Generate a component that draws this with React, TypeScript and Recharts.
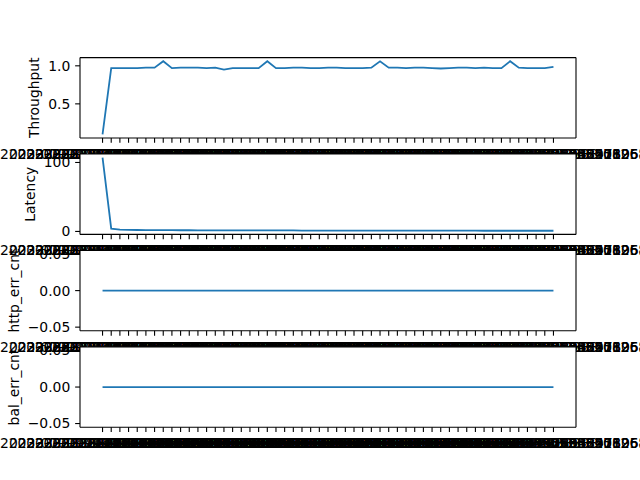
import { CartesianGrid, Label, Line, LineChart, XAxis, YAxis } from 'recharts';

// x tick labels (timestamps, one per sample)
const stamps = [
  '2023-07-18 14:00:03.512847', '2023-07-18 14:01:03.498120', '2023-07-18 14:02:03.507731',
  '2023-07-18 14:03:03.511204', '2023-07-18 14:04:03.502958', '2023-07-18 14:05:03.509316',
  '2023-07-18 14:06:03.514082', '2023-07-18 14:07:03.500673', '2023-07-18 14:08:03.506519',
  '2023-07-18 14:09:03.503847', '2023-07-18 14:10:03.510265', '2023-07-18 14:11:03.508193',
  '2023-07-18 14:12:03.501776', '2023-07-18 14:13:03.512340', '2023-07-18 14:14:03.505108',
  '2023-07-18 14:15:03.509927', '2023-07-18 14:16:03.503614', '2023-07-18 14:17:03.511853',
  '2023-07-18 14:18:03.507042', '2023-07-18 14:19:03.500398', '2023-07-18 14:20:03.513726',
  '2023-07-18 14:21:03.504281', '2023-07-18 14:22:03.508865', '2023-07-18 14:23:03.502517',
  '2023-07-18 14:24:03.510694', '2023-07-18 14:25:03.506130', '2023-07-18 14:26:03.512973',
  '2023-07-18 14:27:03.501459', '2023-07-18 14:28:03.509082', '2023-07-18 14:29:03.503361',
  '2023-07-18 14:30:03.511508', '2023-07-18 14:31:03.507894', '2023-07-18 14:32:03.500215',
  '2023-07-18 14:33:03.513047', '2023-07-18 14:34:03.505672', '2023-07-18 14:35:03.508339',
  '2023-07-18 14:36:03.502906', '2023-07-18 14:37:03.510121', '2023-07-18 14:38:03.506784',
  '2023-07-18 14:39:03.512455', '2023-07-18 14:40:03.501093', '2023-07-18 14:41:03.509760',
  '2023-07-18 14:42:03.503528', '2023-07-18 14:43:03.511186', '2023-07-18 14:44:03.507603',
  '2023-07-18 14:45:03.500942', '2023-07-18 14:46:03.513319', '2023-07-18 14:47:03.504857',
  '2023-07-18 14:48:03.508471', '2023-07-18 14:49:03.502139', '2023-07-18 14:50:03.510806',
  '2023-07-18 14:51:03.506253', '2023-07-18 14:52:03.512688',
];

const throughput = [
  0.10, 0.97, 0.97, 0.97, 0.97, 0.975, 0.975, 1.06, 0.97, 0.975,
  0.975, 0.975, 0.97, 0.975, 0.95, 0.97, 0.97, 0.97, 0.97, 1.06,
  0.97, 0.97, 0.975, 0.975, 0.97, 0.97, 0.975, 0.975, 0.97, 0.97,
  0.97, 0.975, 1.06, 0.975, 0.975, 0.97, 0.975, 0.975, 0.97, 0.965,
  0.97, 0.975, 0.975, 0.97, 0.975, 0.97, 0.97, 1.06, 0.975, 0.97,
  0.97, 0.97, 0.985,
];

const latency = [
  107, 4.0, 2.6, 2.3, 2.1, 2.0, 1.9, 1.8, 1.8, 1.7,
  1.7, 1.6, 1.6, 1.6, 1.5, 1.5, 1.5, 1.5, 1.4, 1.4,
  1.4, 1.4, 1.4, 1.3, 1.3, 1.3, 1.3, 1.3, 1.3, 1.2,
  1.2, 1.2, 1.2, 1.2, 1.2, 1.2, 1.1, 1.1, 1.1, 1.1,
  1.1, 1.1, 1.1, 1.1, 1.0, 1.0, 1.0, 1.0, 1.0, 1.0,
  1.0, 1.0, 1.0,
];

const httpErr = stamps.map(() => 0);
const balErr = stamps.map(() => 0);

const rows = stamps.map((s, i) => ({
  i,
  stamp: s,
  throughput: throughput[i],
  latency: latency[i],
  http: httpErr[i],
  bal: balErr[i],
}));

const idx = rows.map((r) => r.i);
const FONT = 'DejaVu Sans';
const FS = 13.9;
const BLUE = '#1f77b4';

// matplotlib-style 5% margins
const pad = (vals: number[]): [number, number] => {
  const lo = Math.min(...vals);
  const hi = Math.max(...vals);
  if (hi === lo) return [lo - 0.055, hi + 0.055];
  const m = (hi - lo) * 0.05;
  return [lo - m, hi + m];
};

const xDomain: [number, number] = [-(idx.length - 1) * 0.05, (idx.length - 1) * 1.05];

const minus = (s: string) => s.replace('-', '\u2212');

const panels = [
  { key: 'throughput', label: 'Throughput', top: 57.6, bottom: 137.95, ticks: [0.5, 1.0], fmt: (v: number) => v.toFixed(1), labelX: 39.3, domain: pad(throughput) },
  { key: 'latency', label: 'Latency', top: 154.0, bottom: 234.4, ticks: [0, 100], fmt: (v: number) => String(v), labelX: 34.9, domain: pad(latency) },
  { key: 'http', label: 'http_err_cnt', top: 250.4, bottom: 330.8, ticks: [-0.05, 0, 0.05], fmt: (v: number) => minus(v.toFixed(2)), labelX: 19, domain: pad(httpErr) },
  { key: 'bal', label: 'bal_err_cnt', top: 346.9, bottom: 427.2, ticks: [-0.05, 0, 0.05], fmt: (v: number) => minus(v.toFixed(2)), labelX: 19, domain: pad(balErr) },
];

const StampTick = (props: any) => (
  <text
    x={props.x}
    y={props.y + 11}
    textAnchor="middle"
    fontFamily={FONT}
    fontSize={FS}
    fill="#000"
  >
    {stamps[props.payload.value]}
  </text>
);

const axisStyle = { stroke: '#000', strokeWidth: 1.1 };

export default function App() {
  return (
    <div style={{ position: 'absolute', left: 0, top: 0, width: 640, height: 480, background: '#fff' }}>
      {panels.map((p) => {
        const mid = (p.top + p.bottom) / 2;
        return (
          <div key={p.key} style={{ position: 'absolute', left: 0, top: 0 }}>
            <LineChart
              width={640}
              height={480}
              data={rows}
              margin={{ top: p.top - 1, bottom: 480 - p.bottom - 1, left: 79, right: 63 }}
            >
              <CartesianGrid horizontal={false} vertical={false} fill="#fff" fillOpacity={1} />
              <XAxis
                dataKey="i"
                type="number"
                domain={xDomain}
                ticks={idx}
                interval={0}
                height={1}
                tickSize={4.86}
                tickMargin={4.86}
                axisLine={axisStyle}
                tickLine={axisStyle}
                tick={<StampTick />}
              />
              <XAxis
                xAxisId="top"
                orientation="top"
                dataKey="i"
                type="number"
                domain={xDomain}
                height={1}
                tick={false}
                tickLine={false}
                axisLine={axisStyle}
              />
              <YAxis
                type="number"
                domain={p.domain}
                ticks={p.ticks}
                width={1}
                tickSize={4.86}
                tickMargin={4.86}
                axisLine={axisStyle}
                tickLine={axisStyle}
                tickFormatter={p.fmt}
                tick={{ fill: '#000', fontSize: FS, fontFamily: FONT }}
              >
                <Label
                  content={() => (
                    <text
                      x={p.labelX}
                      y={mid}
                      transform={`rotate(-90 ${p.labelX} ${mid})`}
                      textAnchor="middle"
                      fontFamily={FONT}
                      fontSize={FS}
                      fill="#000"
                    >
                      {p.label}
                    </text>
                  )}
                />
              </YAxis>
              <YAxis
                yAxisId="r"
                orientation="right"
                domain={p.domain}
                width={1}
                tick={false}
                tickLine={false}
                axisLine={axisStyle}
              />
              <Line
                dataKey={p.key}
                type="linear"
                stroke={BLUE}
                strokeWidth={1.8}
                dot={false}
                isAnimationActive={false}
              />
            </LineChart>
          </div>
        );
      })}
    </div>
  );
}
